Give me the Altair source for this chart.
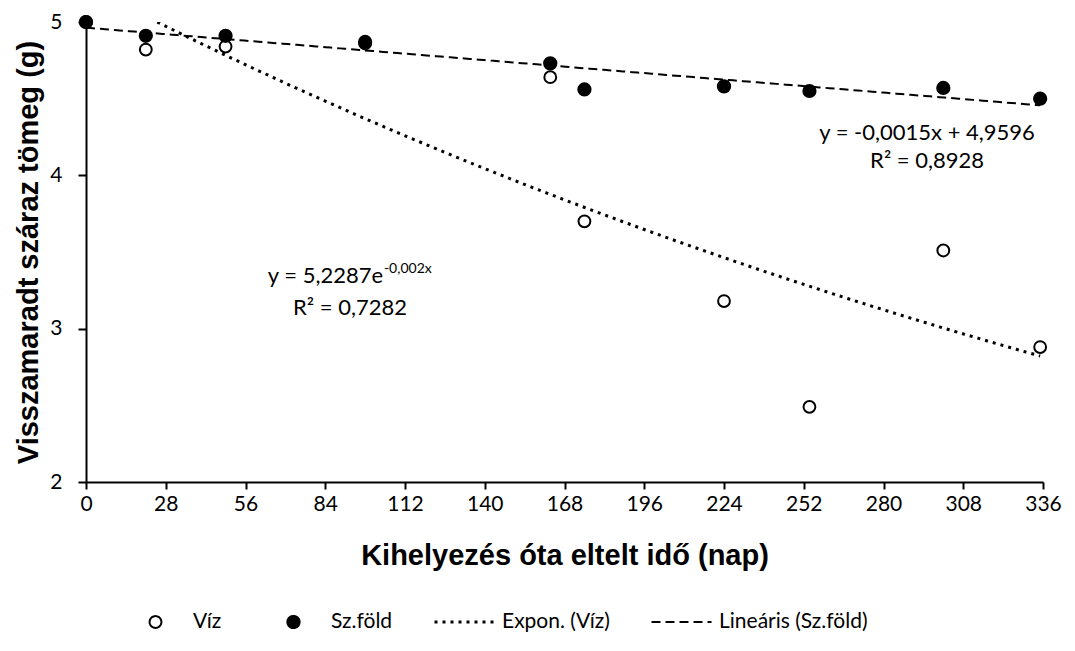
import altair as alt
import numpy as np
import pandas as pd

# ---- data ----
days = [0, 21, 49, 98, 163, 175, 224, 254, 301, 335]
viz = [5.00, 4.82, 4.84, 4.86, 4.64, 3.70, 3.18, 2.49, 3.51, 2.88]
szfold = [5.00, 4.91, 4.91, 4.87, 4.73, 4.56, 4.58, 4.55, 4.57, 4.50]
series_names = ["Víz", "Sz.föld", "Expon. (Víz)", "Lineáris (Sz.föld)"]
x_ticks = [0, 28, 56, 84, 112, 140, 168, 196, 224, 252, 280, 308, 336]
y_ticks = [2, 3, 4, 5]
eq_lin = ["y = -0,0015x + 4,9596", "R² = 0,8928"]
eq_exp = ["y = 5,2287e", "-0,002x", "R² = 0,7282"]
x_title = "Kihelyezés óta eltelt idő (nap)"
y_title = "Visszamaradt száraz tömeg (g)"

points = pd.DataFrame({
    "day": days + days,
    "value": viz + szfold,
    "series": [series_names[0]] * len(days) + [series_names[1]] * len(days),
})

# trend lines fitted like the spreadsheet does (least squares; log-linear for exp)
xa = np.array(days, dtype=float)
b_exp, ln_a = np.polyfit(xa, np.log(np.array(viz)), 1)
m_lin, c_lin = np.polyfit(xa, np.array(szfold), 1)
xs = np.linspace(min(days), max(days), 200)
trend = pd.DataFrame({
    "day": np.concatenate([xs, xs]),
    "value": np.concatenate([np.exp(ln_a + b_exp * xs), m_lin * xs + c_lin]),
    "series": [series_names[2]] * len(xs) + [series_names[3]] * len(xs),
})

FONT = "Lato"
TFONT = "Liberation Sans"

x_scale = alt.Scale(domain=[0, 336], nice=False, zero=False)
y_scale = alt.Scale(domain=[2, 5], nice=False, zero=False)

x_axis = alt.Axis(values=x_ticks, title=x_title, grid=False, labelFlush=False,
                  labelOverlap=False, domainColor="black", domainWidth=2,
                  tickColor="black", tickWidth=2, tickSize=7, labelFont=FONT,
                  labelFontSize=21, labelColor="black", labelPadding=4,
                  titleFont=TFONT, titleFontSize=29, titleFontWeight="bold",
                  titleColor="black", titlePadding=27)
y_axis = alt.Axis(values=y_ticks, format="d", title=y_title, grid=False,
                  labelFlush=False, labelOverlap=False, domainColor="black",
                  domainWidth=2, tickColor="black", tickWidth=2, tickSize=8,
                  labelFont=FONT, labelFontSize=21, labelColor="black",
                  labelPadding=16, titleFont=TFONT, titleFontSize=29,
                  titleFontWeight="bold", titleColor="black", titlePadding=6)

leg = alt.Legend(title=None, orient="none", legendX=38, legendY=588,
                 direction="horizontal", columns=4, labelFont=FONT,
                 labelFontSize=21, labelColor="black", columnPadding=40,
                 labelOffset=6, padding=0, clipHeight=24)

shape_enc = alt.Shape("series:N", scale=alt.Scale(domain=series_names,
                      range=["circle", "circle", "stroke", "stroke"]), legend=leg)
fill_enc = alt.Fill("series:N", scale=alt.Scale(domain=series_names,
                    range=["white", "black", "transparent", "transparent"]), legend=leg)
size_enc = alt.Size("series:N", scale=alt.Scale(type="ordinal", domain=series_names,
                    range=[140, 150, 3600, 3600]), legend=leg)
sw_enc = alt.StrokeWidth("series:N", scale=alt.Scale(type="ordinal", domain=series_names,
                         range=[2, 2, 3, 2]), legend=leg)
dash_enc = alt.StrokeDash("series:N", scale=alt.Scale(type="ordinal", domain=series_names,
                          range=[[1, 0], [1, 0], [3, 5], [9, 5]]), legend=leg)

pts = alt.Chart(points).mark_point(stroke="black", opacity=1).encode(
    x=alt.X("day:Q", scale=x_scale, axis=x_axis),
    y=alt.Y("value:Q", scale=y_scale, axis=y_axis),
    shape=shape_enc, fill=fill_enc, size=size_enc, strokeWidth=sw_enc,
    order=alt.Order("order:Q"),
).transform_calculate(order="datum.series == 'Víz' ? 0 : 1")

lines = alt.Chart(trend).mark_line(color="black", clip=True).encode(
    x=alt.X("day:Q", scale=x_scale),
    y=alt.Y("value:Q", scale=y_scale),
    strokeDash=dash_enc, strokeWidth=sw_enc, detail="series:N",
)


def label(txt, xv, yv, align="center", size=22, baseline="alphabetic"):
    return alt.Chart(pd.DataFrame({"t": [txt]})).mark_text(
        font=FONT, fontSize=size, color="black", align=align, baseline=baseline
    ).encode(x=alt.datum(xv), y=alt.datum(yv), text="t:N")


texts = [
    label(eq_lin[0], 295.3, 4.23),
    label(eq_lin[1], 295.3, 4.05),
    label(eq_exp[0], 104.3, 3.30, align="right"),
    label(eq_exp[1], 104.6, 3.36, align="left", size=14),
    label(eq_exp[2], 92.7, 3.09),
]

chart = alt.layer(pts, lines, *texts).properties(
    width=957, height=460,
    padding={"left": 78, "top": 14, "right": 20, "bottom": 155},
    autosize=alt.AutoSizeParams(type="none"),
    background="white",
).configure_view(stroke=None).configure_legend(
    symbolStrokeColor="black", symbolFillColor="white"
)

chart.save("out.html", embed_options={"renderer": "svg", "actions": False})
